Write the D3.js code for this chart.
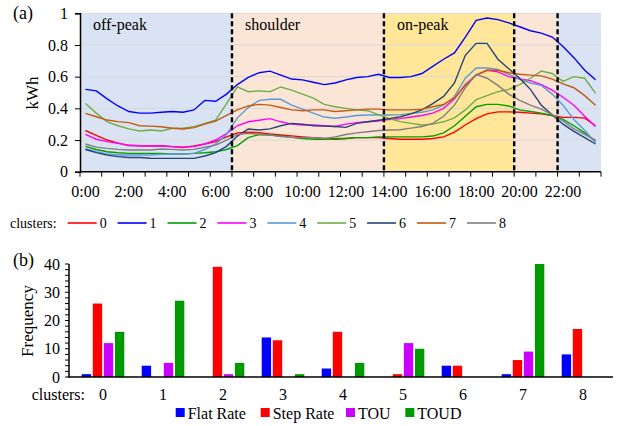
<!DOCTYPE html>
<html>
<head>
<meta charset="utf-8">
<script src="https://cdn.jsdelivr.net/npm/d3@7"></script>
</head>
<body style="margin:0;background:#fff">
<svg id="chart" width="619" height="426"></svg>
<script>

// (a) mean half-hourly load profile of each cluster, kWh, 0:00 .. 23:30
var cluster0 = [0.26,0.23,0.20,0.18,0.165,0.164,0.162,0.164,0.158,0.153,0.163,0.175,0.19,0.22,0.245,0.25,0.246,0.238,0.232,0.226,0.22,0.215,0.21,0.205,0.21,0.215,0.215,0.215,0.21,0.205,0.205,0.205,0.21,0.22,0.25,0.295,0.335,0.365,0.378,0.378,0.375,0.37,0.365,0.355,0.343,0.343,0.338,0.29];
var cluster1 = [0.52,0.51,0.46,0.415,0.38,0.37,0.37,0.375,0.38,0.375,0.39,0.45,0.445,0.49,0.55,0.595,0.625,0.635,0.61,0.585,0.58,0.565,0.55,0.56,0.58,0.595,0.6,0.615,0.595,0.595,0.6,0.62,0.665,0.71,0.75,0.85,0.955,0.97,0.96,0.94,0.915,0.89,0.875,0.85,0.79,0.72,0.64,0.58];
var cluster2 = [0.16,0.14,0.126,0.12,0.116,0.116,0.116,0.116,0.112,0.112,0.116,0.12,0.126,0.14,0.165,0.215,0.235,0.232,0.226,0.217,0.21,0.205,0.205,0.21,0.21,0.215,0.215,0.22,0.22,0.22,0.22,0.22,0.225,0.245,0.29,0.35,0.41,0.425,0.425,0.415,0.39,0.38,0.37,0.355,0.33,0.29,0.245,0.19];
var cluster3 = [0.235,0.205,0.19,0.18,0.168,0.164,0.164,0.162,0.158,0.155,0.158,0.175,0.2,0.24,0.29,0.315,0.325,0.335,0.315,0.30,0.295,0.295,0.29,0.285,0.30,0.31,0.315,0.32,0.33,0.335,0.345,0.355,0.37,0.40,0.46,0.55,0.61,0.64,0.63,0.60,0.585,0.575,0.55,0.515,0.47,0.42,0.35,0.285];
var cluster4 = [0.145,0.126,0.112,0.105,0.105,0.105,0.105,0.11,0.112,0.112,0.116,0.14,0.175,0.235,0.34,0.405,0.45,0.457,0.457,0.42,0.395,0.37,0.345,0.337,0.345,0.355,0.358,0.358,0.358,0.36,0.368,0.375,0.39,0.42,0.475,0.59,0.655,0.655,0.645,0.615,0.585,0.56,0.545,0.49,0.42,0.33,0.26,0.185];
var cluster5 = [0.43,0.37,0.315,0.29,0.27,0.257,0.263,0.257,0.274,0.274,0.284,0.305,0.326,0.43,0.535,0.505,0.51,0.505,0.535,0.515,0.49,0.465,0.425,0.41,0.40,0.39,0.385,0.36,0.335,0.316,0.305,0.295,0.30,0.315,0.34,0.39,0.455,0.48,0.505,0.52,0.55,0.59,0.635,0.62,0.57,0.60,0.59,0.495];
var cluster6 = [0.14,0.12,0.105,0.095,0.09,0.09,0.085,0.084,0.084,0.084,0.084,0.099,0.12,0.16,0.225,0.27,0.263,0.27,0.29,0.305,0.3,0.29,0.288,0.285,0.28,0.305,0.315,0.325,0.335,0.347,0.365,0.39,0.43,0.475,0.56,0.735,0.81,0.81,0.71,0.65,0.59,0.52,0.42,0.36,0.3,0.255,0.215,0.175];
var cluster7 = [0.368,0.347,0.326,0.316,0.31,0.29,0.288,0.284,0.274,0.27,0.278,0.30,0.32,0.355,0.39,0.415,0.425,0.42,0.405,0.39,0.385,0.39,0.39,0.38,0.385,0.39,0.395,0.395,0.39,0.39,0.39,0.394,0.41,0.425,0.465,0.545,0.61,0.64,0.64,0.625,0.615,0.61,0.605,0.585,0.555,0.53,0.48,0.42];
var cluster8 = [0.175,0.155,0.147,0.141,0.137,0.137,0.137,0.143,0.141,0.137,0.141,0.154,0.168,0.2,0.235,0.242,0.236,0.232,0.222,0.217,0.215,0.215,0.21,0.22,0.235,0.245,0.252,0.26,0.263,0.265,0.275,0.285,0.305,0.35,0.42,0.53,0.615,0.59,0.545,0.49,0.45,0.42,0.395,0.36,0.32,0.27,0.235,0.2];

var clusterNames = ["0", "1", "2", "3", "4", "5", "6", "7", "8"];
var clusterColors = ["#ff0000", "#0000ff", "#00a000", "#ff00ff", "#5b9bd5", "#70ad47", "#264478", "#c55a11", "#7f7f7f"];
var profiles = [cluster0, cluster1, cluster2, cluster3, cluster4, cluster5, cluster6, cluster7, cluster8];

var timeLabels = ["0:00", "2:00", "4:00", "6:00", "8:00", "10:00", "12:00", "14:00", "16:00", "18:00", "20:00", "22:00"];
var kwhTicks = [0, 0.2, 0.4, 0.6, 0.8, 1];

// tariff periods in half-hour slots
var periodNames = ["off-peak", "shoulder", "on-peak", "", ""];
var periodFrom = [0, 14, 28, 40, 44];
var periodTo = [14, 28, 40, 44, 48];
var periodColors = ["#dae3f3", "#fbe5d6", "#ffe699", "#fbe5d6", "#dae3f3"];
var periodBreaks = [14, 28, 40, 44];

// (b) number of customers per tariff in each cluster
var tariffNames = ["Flat Rate", "Step Rate", "TOU", "TOUD"];
var tariffColors = ["#0000ff", "#ff0000", "#cc00ff", "#009900"];
var flatRate = [1, 4, 0, 14, 3, 0, 4, 1, 8];
var stepRate = [26, 0, 39, 13, 16, 1, 4, 6, 17];
var tou = [12, 5, 1, 0, 0, 12, 0, 9, 0];
var toud = [16, 27, 5, 1, 5, 10, 0, 40, 0];
var freqTicks = [0, 10, 20, 30, 40];

var FONT = "Liberation Serif";
var svg = d3.select("#chart");

// ------------------------------------------------------------------
// (a) load profiles
// ------------------------------------------------------------------
var x = d3.scaleLinear().domain([0, 48]).range([80, 601]);
var y = d3.scaleLinear().domain([0, 1]).range([171.7, 13.3]);

var chartA = svg.append("g");

chartA.selectAll("rect.period")
    .data(periodFrom)
    .enter().append("rect")
    .attr("x", function(d) { return x(d); })
    .attr("y", y(1))
    .attr("width", function(d, i) { return x(periodTo[i]) - x(d); })
    .attr("height", y(0) - y(1))
    .attr("fill", function(d, i) { return periodColors[i]; });

chartA.selectAll("line.grid")
    .data(kwhTicks.slice(1))
    .enter().append("line")
    .attr("x1", x(0)).attr("x2", x(48))
    .attr("y1", function(d) { return y(d); })
    .attr("y2", function(d) { return y(d); })
    .attr("stroke", "#d9d9d9")
    .attr("stroke-width", 1);

var line = d3.line()
    .x(function(d, i) { return x(i + 0.5); })
    .y(function(d) { return y(d); });

chartA.selectAll("path.profile")
    .data(profiles)
    .enter().append("path")
    .attr("d", line)
    .attr("fill", "none")
    .attr("stroke", function(d, i) { return clusterColors[i]; })
    .attr("stroke-width", 1.4);

chartA.selectAll("line.break")
    .data(periodBreaks)
    .enter().append("line")
    .attr("x1", function(d) { return x(d); })
    .attr("x2", function(d) { return x(d); })
    .attr("y1", y(1)).attr("y2", y(0))
    .attr("stroke", "#000")
    .attr("stroke-width", 2.4)
    .attr("stroke-dasharray", "5,3");

chartA.selectAll("text.period")
    .data(periodNames)
    .enter().append("text")
    .attr("x", function(d, i) { return x(periodFrom[i]) + 13; })
    .attr("y", 30)
    .attr("font-size", 16)
    .text(function(d) { return d; });

// axes
var yAxisA = d3.axisLeft(y).tickValues(kwhTicks).tickSize(5).tickFormat(function(d) { return String(d); });
var gya = chartA.append("g").attr("transform", "translate(80,0)").call(yAxisA);
gya.attr("font-family", null).attr("font-size", null);
gya.select(".domain").attr("stroke-width", 1.5);
gya.selectAll("text").attr("font-size", 16).attr("x", -12);

var gxa = chartA.append("g").attr("transform", "translate(0," + y(0) + ")");
gxa.append("line").attr("x1", x(0)).attr("x2", x(48)).attr("stroke", "#000").attr("stroke-width", 1.5);
gxa.selectAll("line.tick")
    .data(d3.range(0, 49, 2))
    .enter().append("line")
    .attr("x1", function(d) { return x(d); })
    .attr("x2", function(d) { return x(d); })
    .attr("y1", 0).attr("y2", 5)
    .attr("stroke", "#000");
gxa.selectAll("text")
    .data(timeLabels)
    .enter().append("text")
    .attr("x", function(d, i) { return x(i * 4 + 0.5); })
    .attr("y", 25)
    .attr("text-anchor", "middle")
    .attr("font-size", 16)
    .text(function(d) { return d; });

chartA.append("text").attr("x", 13).attr("y", 19).attr("font-size", 18).text("(a)");
chartA.append("text")
    .attr("transform", "translate(38,93) rotate(-90)")
    .attr("text-anchor", "middle")
    .attr("font-size", 17)
    .text("kWh");

// legend (a)
var legA = svg.append("g");
legA.append("text").attr("x", 10).attr("y", 228).attr("font-size", 14).text("clusters:");
var legItem = legA.selectAll("g.item")
    .data(clusterNames)
    .enter().append("g")
    .attr("transform", function(d, i) { return "translate(" + (67.7 + i * 49.9) + ",0)"; });
legItem.append("line")
    .attr("x1", 0).attr("x2", 29)
    .attr("y1", 223).attr("y2", 223)
    .attr("stroke", function(d, i) { return clusterColors[i]; })
    .attr("stroke-width", 1.6);
legItem.append("text")
    .attr("x", 32).attr("y", 228)
    .attr("font-size", 14)
    .text(function(d) { return d; });

// ------------------------------------------------------------------
// (b) tariff frequency per cluster
// ------------------------------------------------------------------
var tariffCounts = [flatRate, stepRate, tou, toud];

var x0 = d3.scaleBand().domain(clusterNames).range([73, 613]).paddingInner(0.29).paddingOuter(0.145);
var x1 = d3.scaleBand().domain(tariffNames).range([0, x0.bandwidth()]).paddingInner(0.15);
var yb = d3.scaleLinear().domain([0, 40]).range([377, 264]);

var chartB = svg.append("g");

var groups = chartB.selectAll("g.cluster")
    .data(clusterNames)
    .enter().append("g")
    .attr("transform", function(d) { return "translate(" + x0(d) + ",0)"; });

groups.selectAll("rect")
    .data(function(d, ci) {
        return tariffNames.map(function(t, ti) { return { tariff: t, value: tariffCounts[ti][ci], color: tariffColors[ti] }; });
    })
    .enter().append("rect")
    .attr("x", function(d) { return x1(d.tariff); })
    .attr("y", function(d) { return yb(d.value); })
    .attr("width", x1.bandwidth())
    .attr("height", function(d) { return yb(0) - yb(d.value); })
    .attr("fill", function(d) { return d.color; });

// y axis with minor ticks every 2
var gyb = chartB.append("g").attr("transform", "translate(69,0)");
gyb.append("line").attr("y1", yb(0)).attr("y2", yb(40)).attr("stroke", "#000").attr("stroke-width", 1.5);
gyb.selectAll("line.minor")
    .data(d3.range(0, 41, 2))
    .enter().append("line")
    .attr("x1", -4).attr("x2", 0)
    .attr("y1", function(d) { return yb(d); })
    .attr("y2", function(d) { return yb(d); })
    .attr("stroke", "#000");
gyb.selectAll("text")
    .data(freqTicks)
    .enter().append("text")
    .attr("x", -9)
    .attr("y", function(d) { return yb(d) + 5.5; })
    .attr("text-anchor", "end")
    .attr("font-size", 16)
    .text(function(d) { return d; });

chartB.append("line")
    .attr("x1", 68).attr("x2", 613)
    .attr("y1", yb(0)).attr("y2", yb(0))
    .attr("stroke", "#000").attr("stroke-width", 1.5);

chartB.selectAll("text.cl")
    .data(clusterNames)
    .enter().append("text")
    .attr("x", function(d) { return x0(d) + x0.bandwidth() / 2; })
    .attr("y", 400)
    .attr("text-anchor", "middle")
    .attr("font-size", 16)
    .text(function(d) { return d; });

chartB.append("text").attr("x", 31.7).attr("y", 400).attr("font-size", 16).text("clusters:");
chartB.append("text").attr("x", 13).attr("y", 266).attr("font-size", 18).text("(b)");
chartB.append("text")
    .attr("transform", "translate(33,321) rotate(-90)")
    .attr("text-anchor", "middle")
    .attr("font-size", 17)
    .text("Frequency");

// legend (b)
var legBx = [175.7, 260.7, 346, 405.3];
var legB = chartB.selectAll("g.leg")
    .data(tariffNames)
    .enter().append("g")
    .attr("transform", function(d, i) { return "translate(" + legBx[i] + ",0)"; });
legB.append("rect")
    .attr("x", 0).attr("y", 408)
    .attr("width", 9).attr("height", 9)
    .attr("fill", function(d, i) { return tariffColors[i]; });
legB.append("text")
    .attr("x", 12).attr("y", 419)
    .attr("font-size", 16)
    .text(function(d) { return d; });

// same serif face on every label
svg.selectAll("text")
    .style("font-family", FONT)
    .attr("fill", "#000");

</script>
</body>
</html>
